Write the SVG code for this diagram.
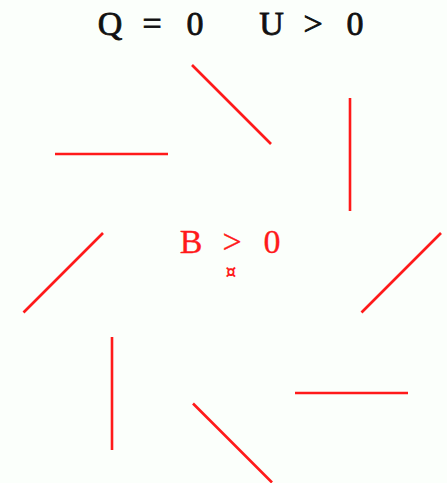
<svg xmlns="http://www.w3.org/2000/svg" width="447" height="483" viewBox="0 0 447 483">
<style>
.seg{stroke:#ff1a1a;stroke-width:2.6;stroke-linecap:butt;fill:none}
.lbl{font-family:"Liberation Serif","Times New Roman",serif;font-size:34px;text-anchor:middle}
.black{fill:#111111;stroke:#111111;stroke-width:0.8px}
.red{fill:#ff1a1a;stroke:#ff1a1a;stroke-width:0.3px}
</style>
<rect x="0" y="0" width="447" height="483" fill="#fbfffb"/>
<g id="title">
<text class="lbl black" x="110 152 195" y="35">Q=0</text>
<text class="lbl black" x="271.5 313 355" y="35">U&gt;0</text>
</g>
<g id="center">
<text class="lbl red" x="191 232 272" y="253">B&gt;0</text>
<text class="red" x="231" y="278" text-anchor="middle" style="font-family:'DejaVu Sans',sans-serif;font-size:17px;font-weight:bold;stroke-width:0">¤</text>
</g>
<g id="connectors">
<line class="seg" x1="192" y1="65" x2="271" y2="144"/>
<line class="seg" x1="55" y1="154" x2="168" y2="154"/>
<line class="seg" x1="350" y1="98" x2="350" y2="211"/>
<line class="seg" x1="103" y1="233" x2="23.5" y2="312.5"/>
<line class="seg" x1="441" y1="233" x2="361.5" y2="312.5"/>
<line class="seg" x1="112" y1="337" x2="112" y2="450"/>
<line class="seg" x1="193" y1="403.5" x2="272" y2="482.5"/>
<line class="seg" x1="295" y1="393" x2="408" y2="393"/>
</g>
</svg>
